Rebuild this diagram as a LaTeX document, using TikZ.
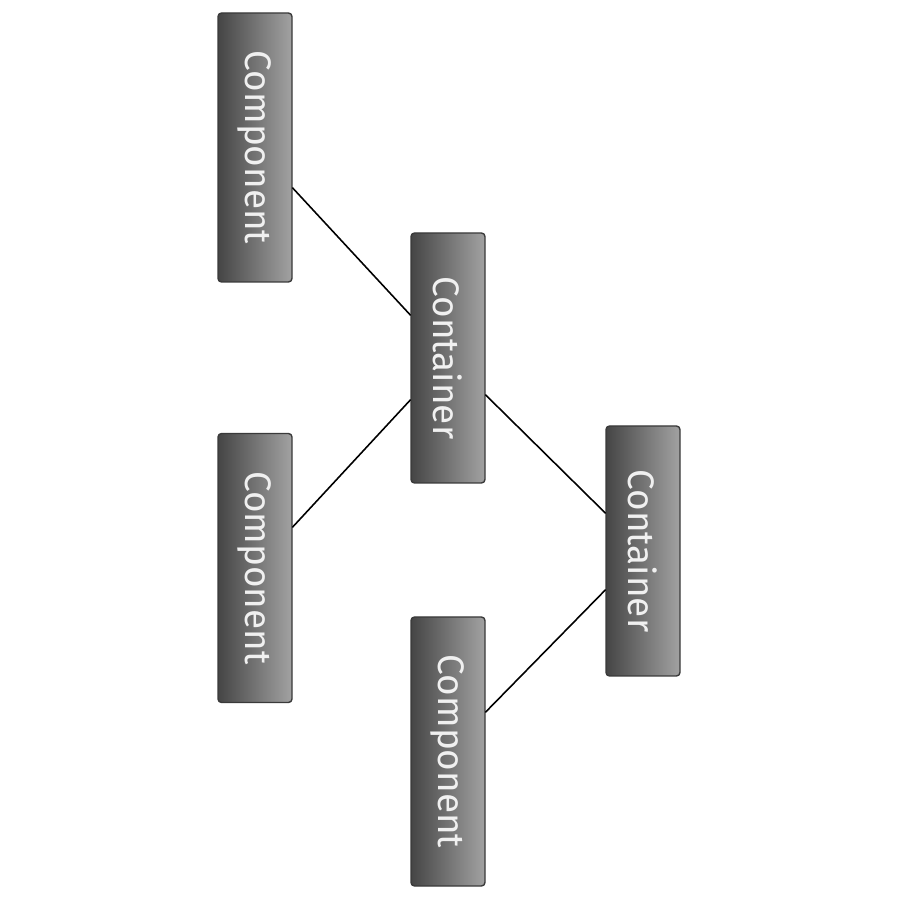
\documentclass[tikz,border=0pt]{standalone}
\usepackage{fontspec}
\setmainfont{Fira Sans}
\usetikzlibrary{calc}
\definecolor{boxdark}{HTML}{454545}
\definecolor{boxlight}{HTML}{A2A2A2}
\definecolor{boxline}{HTML}{3A3A3A}
\begin{document}
\begin{tikzpicture}[font=\fontsize{21}{23}\selectfont, line join=round, line cap=round,
	box/.style={draw=boxline,line width=0.8pt,rounded corners=2pt,left color=boxdark,right color=boxlight,text=white!94!black,minimum width=1.48cm,inner sep=0pt},
	comp/.style={box,minimum height=5.38cm},
	cont/.style={box,minimum height=5cm}]
	\useasboundingbox (0,0) rectangle (18,18);
	\foreach \n/\s/\x/\y/\t in {c1/comp/5.1/15.05/Component,c2/comp/5.1/6.64/Component,c3/comp/8.96/2.97/Component,k1/cont/8.96/10.84/Container,k2/cont/12.86/6.98/Container}
		\node[\s] (\n) at (\x,\y) {\rotatebox{-90}{\t}};
	\foreach \a/\da/\b/\db in {c1/-0.81/k1/0.86,c2/0.82/k1/-0.84,k1/-0.74/k2/0.76,c3/0.79/k2/-0.78}
		\draw[line width=0.9pt] ([yshift=\da cm]\a.east) -- ([yshift=\db cm]\b.west);
\end{tikzpicture}
\end{document}
